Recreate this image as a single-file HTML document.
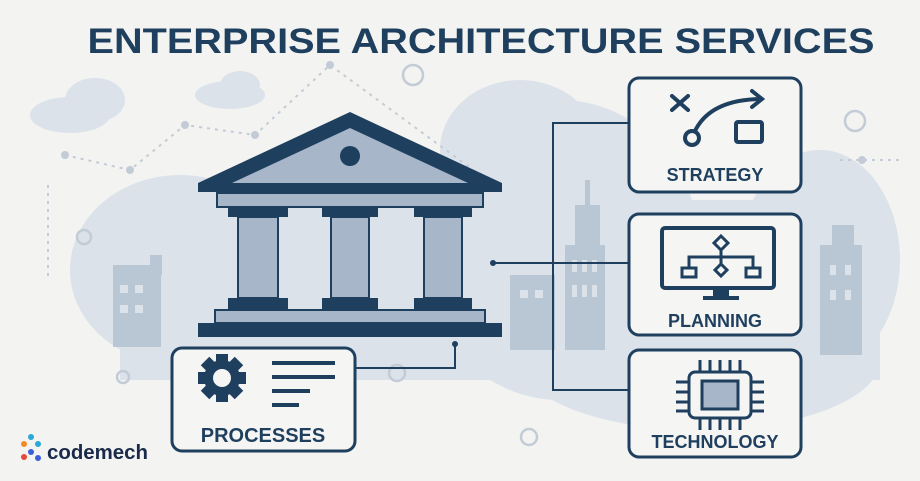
<!DOCTYPE html>
<html><head><meta charset="utf-8"><style>
html,body{margin:0;padding:0;background:#f3f3f1;}
svg{display:block}
text{font-family:"Liberation Sans",sans-serif;font-weight:bold;fill:#1f3f5f}
</style></head><body>
<svg width="920" height="481" viewBox="0 0 920 481" xmlns="http://www.w3.org/2000/svg">
<rect width="920" height="481" fill="#f3f3f1"/>
<!-- clouds -->
<g fill="#dbe2ea">
<ellipse cx="70" cy="115" rx="40" ry="18"/><ellipse cx="95" cy="100" rx="30" ry="22"/>
<ellipse cx="230" cy="95" rx="35" ry="14"/><ellipse cx="240" cy="85" rx="20" ry="14"/>
<ellipse cx="180" cy="270" rx="110" ry="95"/>
<ellipse cx="300" cy="300" rx="200" ry="80"/>
<ellipse cx="520" cy="150" rx="80" ry="70"/>
<ellipse cx="560" cy="250" rx="140" ry="150"/>
<ellipse cx="820" cy="260" rx="80" ry="110"/>
<ellipse cx="700" cy="360" rx="180" ry="70"/>
<rect x="120" y="200" width="760" height="180"/>
</g>
<!-- buildings -->
<g fill="#b9c6d4">
<rect x="113" y="265" width="48" height="82"/><rect x="150" y="255" width="12" height="20"/>
<rect x="565" y="245" width="40" height="105"/><rect x="575" y="205" width="25" height="45"/><rect x="585" y="180" width="5" height="30"/>
<rect x="510" y="275" width="45" height="75"/>
<rect x="820" y="245" width="42" height="110"/><rect x="832" y="225" width="22" height="25"/>
</g>
<g fill="#dbe2ea">
<rect x="120" y="285" width="8" height="8"/><rect x="135" y="285" width="8" height="8"/><rect x="120" y="305" width="8" height="8"/><rect x="135" y="305" width="8" height="8"/>
<rect x="520" y="290" width="8" height="8"/><rect x="535" y="290" width="8" height="8"/>
<rect x="572" y="260" width="5" height="12"/><rect x="582" y="260" width="5" height="12"/><rect x="592" y="260" width="5" height="12"/>
<rect x="572" y="285" width="5" height="12"/><rect x="582" y="285" width="5" height="12"/><rect x="592" y="285" width="5" height="12"/>
<rect x="830" y="265" width="6" height="10"/><rect x="845" y="265" width="6" height="10"/><rect x="830" y="290" width="6" height="10"/><rect x="845" y="290" width="6" height="10"/>
</g>
<!-- dotted lines & circles -->
<g stroke="#c3ccd6" stroke-width="2" fill="none" stroke-dasharray="3 5">
<polyline points="65,155 130,170 185,125 255,135 330,65 480,175"/>
<line x1="48" y1="185" x2="48" y2="280"/>
<line x1="840" y1="160" x2="900" y2="160"/>
</g>
<g fill="#c3ccd6"><circle cx="65" cy="155" r="4"/><circle cx="130" cy="170" r="4"/><circle cx="185" cy="125" r="4"/><circle cx="255" cy="135" r="4"/><circle cx="330" cy="65" r="4"/><circle cx="862" cy="160" r="4"/></g>
<g stroke="#c3ccd6" stroke-width="2.5" fill="none">
<circle cx="413" cy="75" r="10"/><circle cx="855" cy="121" r="10"/><circle cx="84" cy="237" r="7"/><circle cx="123" cy="377" r="6"/><circle cx="397" cy="373" r="8"/><circle cx="529" cy="437" r="8"/>
</g>
<!-- building -->
<polygon points="350,112 198,183 198,192 502,192 502,183" fill="#1f3f5f"/>
<polygon points="350,128 232,183 468,183" fill="#a7b6c8"/>
<circle cx="350" cy="156" r="10" fill="#1f3f5f"/>
<rect x="217" y="193" width="266" height="14" fill="#a7b6c8" stroke="#1f3f5f" stroke-width="2"/>
<g fill="#1f3f5f">
<rect x="228" y="207" width="60" height="10"/><rect x="322" y="207" width="56" height="10"/><rect x="414" y="207" width="58" height="10"/>
<rect x="228" y="298" width="60" height="12"/><rect x="322" y="298" width="56" height="12"/><rect x="414" y="298" width="58" height="12"/>
<rect x="198" y="323" width="304" height="14"/>
</g>
<g fill="#a7b6c8" stroke="#1f3f5f" stroke-width="2">
<rect x="238" y="217" width="40" height="81"/><rect x="331" y="217" width="38" height="81"/><rect x="424" y="217" width="38" height="81"/>
<rect x="215" y="310" width="270" height="13"/>
</g>
<!-- connectors -->
<g stroke="#1f3f5f" stroke-width="2" fill="none">
<polyline points="628,123 553,123 553,390 628,390"/>
<line x1="493" y1="263" x2="628" y2="263"/>
<polyline points="455,344 455,368 356,368"/>
</g>
<circle cx="493" cy="263" r="3" fill="#1f3f5f"/><circle cx="455" cy="344" r="3" fill="#1f3f5f"/>
<!-- boxes -->
<g fill="#f5f5f3" stroke="#1f3f5f" stroke-width="3">
<rect x="629" y="78" width="172" height="114" rx="10"/>
<rect x="629" y="214" width="172" height="121" rx="10"/>
<rect x="629" y="350" width="172" height="107" rx="10"/>
<rect x="172" y="348" width="183" height="103" rx="10"/>
</g>
<!-- strategy icon -->
<g stroke="#1f3f5f" stroke-width="4" fill="none" stroke-linecap="round">
<line x1="672" y1="96" x2="688" y2="110"/><line x1="688" y1="96" x2="672" y2="110"/>
<circle cx="692" cy="138" r="7"/>
<path d="M695,131 Q710,100 760,99"/><polyline points="752,91 762,99 752,107"/>
<rect x="736" y="122" width="26" height="20" rx="2"/>
</g>
<text x="715" y="181" font-size="18" text-anchor="middle">STRATEGY</text>
<!-- planning icon -->
<g stroke="#1f3f5f" stroke-width="4" fill="none">
<rect x="662" y="228" width="112" height="60" rx="3"/>
<polygon points="721,236 728,243 721,250 714,243" stroke-width="3"/>
<polyline points="721,250 721,257" stroke-width="3"/>
<polyline points="689,268 689,257 753,257 753,268" stroke-width="3"/>
<line x1="721" y1="257" x2="721" y2="264" stroke-width="3"/>
<rect x="682" y="268" width="14" height="9" stroke-width="3"/>
<rect x="746" y="268" width="14" height="9" stroke-width="3"/>
<polygon points="721,264 727,270 721,276 715,270" stroke-width="3"/>
</g>
<rect x="713" y="288" width="16" height="8" fill="#1f3f5f"/><rect x="703" y="296" width="36" height="4" fill="#1f3f5f"/>
<text x="715" y="327" font-size="18" text-anchor="middle">PLANNING</text>
<!-- tech icon -->
<g stroke="#1f3f5f" stroke-width="3">
<line x1="700" y1="360" x2="700" y2="372"/><line x1="710" y1="360" x2="710" y2="372"/><line x1="720" y1="360" x2="720" y2="372"/><line x1="730" y1="360" x2="730" y2="372"/><line x1="740" y1="360" x2="740" y2="372"/>
<line x1="700" y1="418" x2="700" y2="430"/><line x1="710" y1="418" x2="710" y2="430"/><line x1="720" y1="418" x2="720" y2="430"/><line x1="730" y1="418" x2="730" y2="430"/><line x1="740" y1="418" x2="740" y2="430"/>
<line x1="676" y1="382" x2="690" y2="382"/><line x1="676" y1="392" x2="690" y2="392"/><line x1="676" y1="402" x2="690" y2="402"/><line x1="676" y1="411" x2="690" y2="411"/>
<line x1="750" y1="382" x2="764" y2="382"/><line x1="750" y1="392" x2="764" y2="392"/><line x1="750" y1="402" x2="764" y2="402"/><line x1="750" y1="411" x2="764" y2="411"/>
</g>
<rect x="689" y="372" width="62" height="46" rx="6" fill="#f5f5f3" stroke="#1f3f5f" stroke-width="3"/>
<rect x="702" y="381" width="36" height="28" fill="#a7b6c8" stroke="#1f3f5f" stroke-width="3"/>
<text x="715" y="448" font-size="18" text-anchor="middle">TECHNOLOGY</text>
<!-- processes icon -->
<g fill="#1f3f5f">
<g transform="translate(222,378)">
<rect x="-6" y="-24" width="12" height="48"/><rect x="-24" y="-6" width="48" height="12"/>
<rect x="-6" y="-24" width="12" height="48" transform="rotate(45)"/><rect x="-6" y="-24" width="12" height="48" transform="rotate(-45)"/>
<circle r="18"/>
</g>
<rect x="272" y="361" width="63" height="4"/><rect x="272" y="375" width="63" height="4"/><rect x="272" y="389" width="38" height="4"/><rect x="272" y="403" width="27" height="4"/>
</g>
<circle cx="222" cy="378" r="9" fill="#f5f5f3"/>
<text x="263" y="442" font-size="20" text-anchor="middle">PROCESSES</text>
<!-- title -->
<text x="481" y="53" font-size="35" text-anchor="middle" textLength="787" lengthAdjust="spacingAndGlyphs" fill="#1e3f5e">ENTERPRISE ARCHITECTURE SERVICES</text>
<!-- logo -->
<g>
<circle cx="24" cy="444" r="3" fill="#f08a24"/><circle cx="31" cy="437" r="3" fill="#2aa7d9"/><circle cx="31" cy="452" r="3" fill="#3b5fd9"/><circle cx="24" cy="457" r="3" fill="#e64a3a"/><circle cx="38" cy="444" r="3" fill="#2aa7d9"/><circle cx="38" cy="458" r="3" fill="#3b5fd9"/>
</g>
<text x="47" y="459" font-size="20" textLength="101" lengthAdjust="spacingAndGlyphs" style="fill:#1a2a4a">codemech</text>
</svg>
</body></html>
